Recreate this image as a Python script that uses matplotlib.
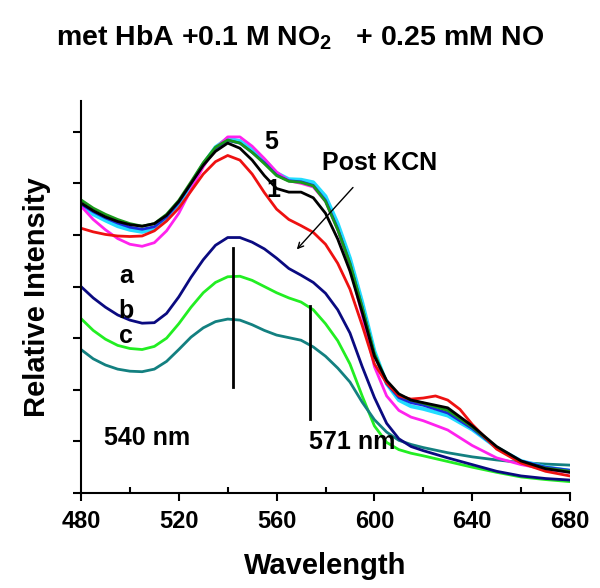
import matplotlib
matplotlib.use("Agg")
import matplotlib.pyplot as plt
from matplotlib.ticker import MultipleLocator

plt.rcParams["font.family"] = ["Liberation Sans", "DejaVu Sans"]
plt.rcParams["font.weight"] = "bold"
plt.rcParams["mathtext.fontset"] = "custom"
plt.rcParams["mathtext.bf"] = "Liberation Sans:bold"
plt.rcParams["mathtext.rm"] = "Liberation Sans:bold"
plt.rcParams["mathtext.default"] = "bf"

# spectra (wavelength nm, relative intensity)
wl = [480, 485, 490, 495, 500, 505, 510, 515, 520, 525, 530, 535, 540, 545, 550,
      555, 560, 565, 570, 575, 580, 585, 590, 595, 600, 605, 610, 615, 620,
      630, 640, 650, 660, 670, 680]
i_black = [5.62, 5.47, 5.35, 5.26, 5.2, 5.17, 5.22, 5.38, 5.65, 6.0, 6.35, 6.62, 6.78, 6.68, 6.45,
           6.15, 5.9, 5.83, 5.83, 5.72, 5.42, 4.92, 4.3, 3.5, 2.65, 2.18, 1.92, 1.8, 1.75,
           1.65, 1.3, 0.9, 0.62, 0.47, 0.40]
i_green = [5.68, 5.52, 5.4, 5.3, 5.22, 5.17, 5.22, 5.4, 5.67, 6.03, 6.4, 6.7, 6.84, 6.78, 6.6,
           6.38, 6.15, 6.04, 6.02, 5.95, 5.65, 5.1, 4.45, 3.6, 2.7, 2.15, 1.9, 1.8, 1.74,
           1.6, 1.28, 0.88, 0.6, 0.48, 0.42]
i_blue = [5.6, 5.45, 5.33, 5.23, 5.15, 5.11, 5.16, 5.35, 5.63, 6.0, 6.38, 6.68, 6.83, 6.78, 6.6,
          6.4, 6.16, 6.05, 6.03, 5.96, 5.67, 5.12, 4.45, 3.6, 2.68, 2.12, 1.85, 1.75, 1.7,
          1.55, 1.25, 0.88, 0.62, 0.5, 0.44]
i_cyan = [5.57, 5.4, 5.28, 5.17, 5.1, 5.06, 5.12, 5.3, 5.6, 5.98, 6.37, 6.7, 6.87, 6.82, 6.65,
          6.45, 6.2, 6.08, 6.07, 6.02, 5.75, 5.22, 4.55, 3.7, 2.75, 2.12, 1.8, 1.68, 1.63,
          1.5, 1.23, 0.88, 0.62, 0.5, 0.43]
i_mag = [5.56, 5.3, 5.1, 4.93, 4.82, 4.78, 4.85, 5.08, 5.42, 5.88, 6.32, 6.68, 6.9, 6.9, 6.72,
         6.48, 6.22, 6.05, 6.0, 5.93, 5.65, 5.1, 4.4, 3.45, 2.45, 1.88, 1.6, 1.47, 1.4,
         1.22, 0.92, 0.68, 0.55, 0.46, 0.40]
i_a = [4.0, 3.78, 3.6, 3.45, 3.35, 3.29, 3.3, 3.48, 3.8, 4.18, 4.52, 4.8, 4.95, 4.95, 4.86,
       4.73, 4.55, 4.35, 4.22, 4.08, 3.87, 3.55, 3.1, 2.45, 1.85, 1.35, 1.05, 0.9, 0.82,
       0.68, 0.55, 0.42, 0.33, 0.28, 0.25]
i_b = [3.38, 3.15, 2.98, 2.86, 2.8, 2.78, 2.84, 3.0, 3.28, 3.6, 3.88, 4.08, 4.19, 4.2, 4.12,
       4.0, 3.88, 3.78, 3.7, 3.55, 3.28, 2.95, 2.5, 1.88, 1.3, 0.98, 0.84, 0.77, 0.72,
       0.61, 0.5, 0.4, 0.31, 0.26, 0.22]
i_c = [2.78, 2.6, 2.48, 2.4, 2.36, 2.35, 2.4, 2.55, 2.78, 3.02, 3.2, 3.32, 3.37, 3.35, 3.26,
       3.15, 3.06, 3.01, 2.96, 2.83, 2.65, 2.42, 2.15, 1.76, 1.42, 1.18, 1.02, 0.94, 0.88,
       0.78, 0.7, 0.64, 0.59, 0.56, 0.54]

wl_red = [480, 485, 490, 495, 500, 505, 510, 515, 520, 525, 530, 535, 540, 545, 550,
          555, 560, 565, 570, 575, 580, 585, 590, 595, 600, 605, 610, 615, 620, 625,
          630, 635, 640, 650, 660, 670, 680]
i_red = [5.13, 5.06, 5.01, 4.98, 4.97, 4.98, 5.08, 5.27, 5.52, 5.85, 6.18, 6.42, 6.54, 6.45, 6.18,
         5.82, 5.5, 5.3, 5.18, 5.05, 4.82, 4.45, 3.95, 3.25, 2.5, 2.13, 1.88, 1.82, 1.84, 1.88,
         1.8, 1.62, 1.33, 0.85, 0.58, 0.42, 0.33]

# marker lines (nm, from, to)
peak_nm = [542, 573.5]
peak_lo = [2.05, 1.44]
peak_hi = [4.74, 3.62]

fig = plt.figure(figsize=(6, 5.88), dpi=100)
ax = fig.add_axes([0.135, 0.1616, 0.815, 0.667])

ax.plot(wl, i_b, color="#22ee22", lw=2)
ax.plot(wl, i_c, color="#138080", lw=2)
ax.plot(wl, i_a, color="#0a0a80", lw=2)
ax.plot(wl, i_cyan, color="#22ddff", lw=2.8)
ax.plot(wl, i_mag, color="#ff22ee", lw=2)
ax.plot(wl, i_blue, color="#1a2ad8", lw=2)
ax.plot(wl, i_green, color="#1a9a1a", lw=2)
ax.plot(wl_red, i_red, color="#ee1111", lw=2)
ax.plot(wl, i_black, color="black", lw=2)

for x, lo, hi in zip(peak_nm, peak_lo, peak_hi):
    ax.plot([x, x], [lo, hi], color="black", lw=2)

fs = 18
ax.text(558, 6.8, "5", fontsize=fs, ha="center", va="center")
ax.text(558.5, 5.87, "1", fontsize=fs, ha="center", va="center")
ax.text(602, 6.4, "Post KCN", fontsize=fs, ha="center", va="center")
ax.annotate("", xy=(567.5, 4.68), xytext=(592, 5.96),
            arrowprops=dict(arrowstyle="->", color="black", lw=1))
ax.text(498.5, 4.2, "a", fontsize=fs, ha="center", va="center")
ax.text(498.5, 3.53, "b", fontsize=fs, ha="center", va="center")
ax.text(498.5, 3.04, "c", fontsize=fs, ha="center", va="center")
ax.text(507, 1.07, "540 nm", fontsize=fs, ha="center", va="center")
ax.text(591, 0.98, "571 nm", fontsize=fs, ha="center", va="center")

ax.set_xlim(480, 680)
ax.set_ylim(0, 7.6)
ax.spines["top"].set_visible(False)
ax.spines["right"].set_visible(False)
for s in ["left", "bottom"]:
    ax.spines[s].set_linewidth(1.5)
ax.xaxis.set_major_locator(MultipleLocator(40))
ax.xaxis.set_minor_locator(MultipleLocator(20))
ax.yaxis.set_major_locator(MultipleLocator(1))
ax.set_yticklabels([])
ax.tick_params(axis="x", which="major", length=6, width=1.5, labelsize=17, pad=6)
ax.tick_params(axis="x", which="minor", length=4, width=1.5, direction="in")
ax.tick_params(axis="y", which="major", length=6, width=1.5)

ax.set_xlabel("Wavelength", fontsize=21, fontweight="bold", labelpad=14)
ax.set_ylabel("Relative Intensity", fontsize=21, fontweight="bold", labelpad=12)

fig.text(0.5, 0.9218, "met HbA +0.1 M NO$_2$   + 0.25 mM NO", fontsize=20.5,
         ha="center", va="baseline")

fig.savefig("out.png", dpi=100)
